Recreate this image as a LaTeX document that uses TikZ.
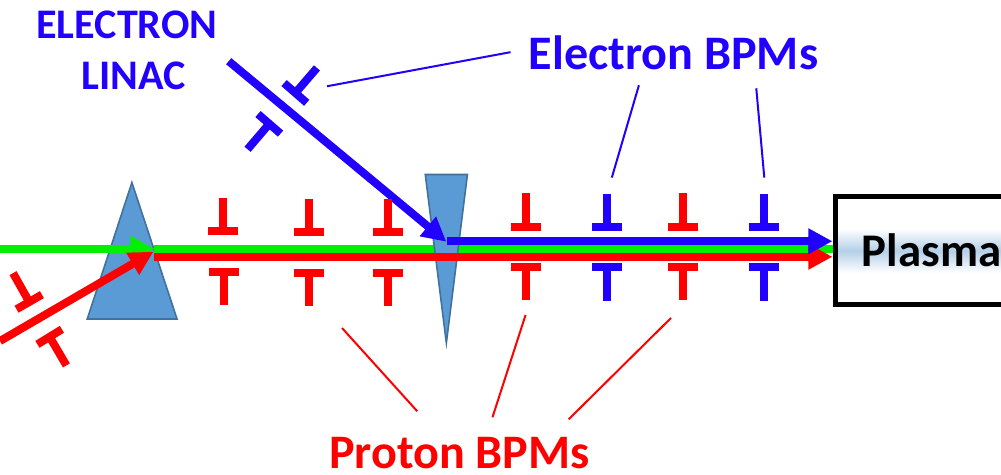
\documentclass[tikz,border=0pt]{standalone}
\usepackage{fontspec}
\setmainfont{Carlito}
\usetikzlibrary{arrows.meta}
\definecolor{BeamBlue}{HTML}{2200FF}
\definecolor{BeamRed}{HTML}{FF0000}
\definecolor{BeamGreen}{HTML}{00F000}
\definecolor{MagnetFill}{HTML}{5B9BD5}
\definecolor{MagnetLine}{HTML}{41719C}
\definecolor{PlasmaGlow}{HTML}{B4CFE8}
\tikzset{
  beam/.style={line width=6pt},
  beamhead/.style={beam,-{Triangle[length=18pt,width=18pt]}},
  bpm/.style={line width=6pt},
  leader/.style={line width=1.5pt},
  magnet/.style={fill=MagnetFill,draw=MagnetLine,line width=1.2pt},
  biglabel/.style={font=\fontsize{36}{38}\selectfont\bfseries,inner sep=0pt},
  linaclabel/.style={font=\fontsize{31.5}{38}\selectfont\bfseries,inner sep=0pt,text=BeamBlue}
}
\begin{document}
\begin{tikzpicture}[x=0.75pt,y=-0.75pt]
\useasboundingbox (0,0) rectangle (998,472.6);
% plasma box
\shade[top color=white,bottom color=white,middle color=PlasmaGlow] (835,228) rectangle (1001,272);
\draw[line width=3.75pt] (1012,196) -- (833,196) -- (833,304) -- (1012,304);
\node[biglabel,font=\fontsize{35}{38}\selectfont\bfseries,anchor=west] (plasma) at (859,249) {Plasma};
% beam ends
\coordinate (greenin) at (0,248);
\coordinate (redin) at (0,340);
\coordinate (merge) at (154,248);
\coordinate (mergered) at (154,256);
\coordinate (bluein) at (228,61);
\coordinate (bluetip) at (445,241);
\coordinate (blueend) at (830,240.5);
\coordinate (greenend) at (830,248);
\coordinate (redend) at (830,256);
% magnets and beams
\draw[magnet] (131.5,182) -- (176.5,318) -- (87,318) -- cycle;
\draw[beamhead,BeamGreen] (greenin) -- (merge);
\draw[beam,BeamGreen] (merge) -- (greenend);
\draw[beamhead,BeamGreen] (806,248) -- (greenend);
\draw[magnet] (424,174) -- (466,174) -- (445,342) -- cycle;
\draw[beamhead,BeamRed] (redin) -- (153,251);
\draw[beamhead,BeamRed] (mergered) -- (redend);
\draw[beamhead,BeamBlue] (bluein) -- (bluetip);
\draw[beamhead,BeamBlue] (446,240.5) -- (blueend);
% proton bpms
\draw[bpm,BeamRed] (222,197) -- (222,230) (207,230) -- (237,230);
\draw[bpm,BeamRed] (223,304) -- (223,271) (208,271) -- (238,271);
\draw[bpm,BeamRed] (308,198) -- (308,231) (293,231) -- (323,231);
\draw[bpm,BeamRed] (308,305) -- (308,272) (293,272) -- (323,272);
\draw[bpm,BeamRed] (387,198) -- (387,231) (372,231) -- (402,231);
\draw[bpm,BeamRed] (387,305) -- (387,272) (372,272) -- (402,272);
\draw[bpm,BeamRed] (524,192) -- (524,226) (509,226) -- (539,226);
\draw[bpm,BeamRed] (524,299) -- (524,266) (509,266) -- (539,266);
\draw[bpm,BeamRed] (681,192) -- (681,226) (666,226) -- (696,226);
\draw[bpm,BeamRed] (681,299) -- (681,266) (666,266) -- (696,266);
% electron bpms
\draw[bpm,BeamBlue] (605,193) -- (605,226) (590,226) -- (620,226);
\draw[bpm,BeamBlue] (605,300) -- (605,266) (590,266) -- (620,266);
\draw[bpm,BeamBlue] (762,193) -- (762,226) (747,226) -- (777,226);
\draw[bpm,BeamBlue] (762,300) -- (762,266) (747,266) -- (777,266);
% tilted bpms
\draw[bpm,BeamBlue] (316,67.7) -- (294.5,92.7) (283.2,82.8) -- (305.8,102.5);
\draw[bpm,BeamBlue] (246.8,148.8) -- (268.5,123.4) (257.2,113.7) -- (279.7,133.2);
\draw[bpm,BeamRed] (13,272.3) -- (29.2,301) (41.8,293.7) -- (16.5,308.3);
\draw[bpm,BeamRed] (66.2,364.3) -- (49.5,335.8) (61.7,328.3) -- (37.3,343.3);
% labels
\node[linaclabel] (electronword) at (126.5,25) {ELECTRON};
\node[linaclabel] (linacword) at (133,75.5) {LINAC};
\node[biglabel,text=BeamBlue] (electron) at (671.5,53) {Electron BPMs};
\node[biglabel,text=BeamRed] (proton) at (458,452) {Proton BPMs};
% leaders
\coordinate (ea) at (509,52);
\coordinate (eb) at (326,86);
\coordinate (ec) at (637,85);
\coordinate (ed) at (610,177);
\coordinate (ee) at (754,88);
\coordinate (ef) at (762,177);
\coordinate (pa) at (416,410);
\coordinate (pb) at (341,327);
\coordinate (pc) at (491,416);
\coordinate (pd) at (524,314);
\coordinate (pe) at (567,418);
\coordinate (pf) at (669,317);
\draw[leader,BeamBlue] (ea) -- (eb);
\draw[leader,BeamBlue] (ec) -- (ed);
\draw[leader,BeamBlue] (ee) -- (ef);
\draw[leader,BeamRed] (pa) -- (pb);
\draw[leader,BeamRed] (pc) -- (pd);
\draw[leader,BeamRed] (pe) -- (pf);
\end{tikzpicture}
\end{document}
